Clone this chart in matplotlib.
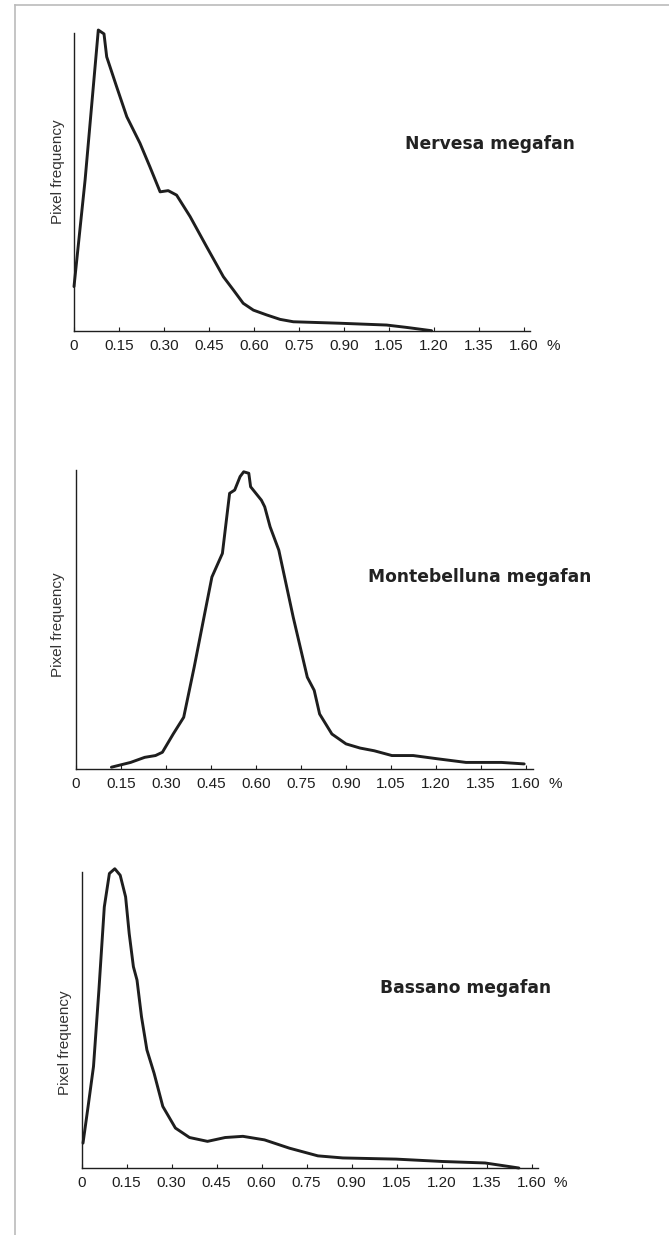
import matplotlib
matplotlib.use("Agg")
import matplotlib.pyplot as plt
from matplotlib.lines import Line2D

# tick labels (the last one is printed as 1.60 in the original figure)
tick_pos = [0, 0.15, 0.30, 0.45, 0.60, 0.75, 0.90, 1.05, 1.20, 1.35, 1.50]
tick_labels = ["0", "0.15", "0.30", "0.45", "0.60", "0.75", "0.90", "1.05", "1.20", "1.35", "1.60"]

# Nervesa megafan (slope %, relative pixel frequency)
nervesa_x = [0.0, 0.037, 0.081, 0.100, 0.109, 0.142, 0.176, 0.220, 0.253, 0.287, 0.314, 0.342,
             0.387, 0.442, 0.498, 0.531, 0.564, 0.598, 0.642, 0.687, 0.731, 0.887, 1.042, 1.109, 1.192]
nervesa_y = [14.9, 50.7, 101.0, 99.7, 92.0, 82.0, 71.9, 63.0, 55.1, 46.7, 47.1, 45.6,
             38.4, 28.3, 18.2, 13.8, 9.3, 7.0, 5.4, 3.9, 3.1, 2.6, 2.0, 1.2, 0.1]

# Montebelluna megafan
monte_x = [0.118, 0.182, 0.229, 0.265, 0.288, 0.324, 0.359, 0.394, 0.429, 0.453, 0.488, 0.512,
           0.529, 0.547, 0.559, 0.576, 0.582, 0.618, 0.629, 0.647, 0.676, 0.724, 0.771, 0.794,
           0.812, 0.853, 0.900, 0.947, 0.994, 1.053, 1.124, 1.206, 1.300, 1.418, 1.494]
monte_y = [0.6, 2.2, 3.9, 4.5, 5.6, 11.7, 17.3, 34.1, 52.0, 64.2, 72.1, 92.2,
           93.3, 97.8, 99.4, 98.9, 94.4, 89.9, 87.7, 81.0, 73.2, 50.8, 30.7, 26.3,
           18.4, 11.7, 8.4, 7.0, 6.1, 4.5, 4.5, 3.4, 2.2, 2.2, 1.7]

# Bassano megafan
bassano_x = [0.005, 0.022, 0.040, 0.058, 0.076, 0.093, 0.111, 0.129, 0.147, 0.159, 0.173, 0.185,
             0.200, 0.218, 0.242, 0.271, 0.313, 0.360, 0.420, 0.479, 0.538, 0.610, 0.693,
             0.788, 0.871, 1.049, 1.203, 1.345, 1.405, 1.458]
bassano_y = [8.4, 20.8, 34.3, 60.1, 88.2, 99.5, 101.1, 98.9, 91.6, 79.2, 68.0, 63.5,
             51.1, 39.9, 32.0, 20.8, 13.5, 10.3, 9.0, 10.3, 10.7, 9.5, 6.7,
             4.1, 3.4, 3.0, 2.2, 1.7, 0.8, 0.0]

titles = ["Nervesa megafan", "Montebelluna megafan", "Bassano megafan"]

W, H = 669, 1235
fig = plt.figure(figsize=(W / 100, H / 100), dpi=100)

# axes boxes in pixels: left, right, top, baseline
boxes = [(74, 530, 33, 331), (76, 533, 470, 769), (81.5, 538, 872, 1168)]
title_pos = [(405, 144), (368, 577), (380, 988)]
ylabel_pos = [(58, 172), (58, 625), (65, 1043)]
series = [(nervesa_x, nervesa_y), (monte_x, monte_y), (bassano_x, bassano_y)]

ink = "#1e1e1e"
for (l, r, t, b), (xs, ys), title, (tx, ty), (lx, ly) in zip(boxes, series, titles, title_pos, ylabel_pos):
    ax = fig.add_axes([l / W, 1 - b / H, (r - l) / W, (b - t) / H])
    ax.plot(xs, ys, color=ink, lw=2.1, solid_joinstyle="round", solid_capstyle="round", clip_on=False)
    ax.set_xlim(0, (r - l) / 300)
    ax.set_ylim(0, 100)
    for s in ["top", "right"]:
        ax.spines[s].set_visible(False)
    for s in ["left", "bottom"]:
        ax.spines[s].set_linewidth(1.0)
        ax.spines[s].set_color(ink)
    ax.set_yticks([])
    ax.set_xticks(tick_pos)
    ax.set_xticklabels(tick_labels, fontfamily="Liberation Sans", fontsize=11, color=ink)
    ax.tick_params(axis="x", direction="in", length=3, width=0.8, pad=5.5, color=ink)
    ax.annotate("%", xy=(1.50, 0), xycoords=ax.get_xaxis_transform(),
                xytext=(16, -10.5), textcoords="offset points",
                ha="left", va="center", fontfamily="Liberation Sans", fontsize=11, color=ink)
    fig.text(lx / W, 1 - ly / H, "Pixel frequency", rotation=90, ha="center", va="center",
             fontfamily="Liberation Sans", fontsize=11, color="#333333")
    fig.text(tx / W, 1 - ty / H, title, ha="left", va="center",
             fontfamily="DejaVu Sans", fontweight="bold", fontsize=12.3, color="#222222")

# thin page frame along the top and left edges
fig.add_artist(Line2D([15 / W, 1], [1 - 5 / H, 1 - 5 / H], color="#bbbbbb", lw=1.2))
fig.add_artist(Line2D([15 / W, 15 / W], [0, 1 - 5 / H], color="#bbbbbb", lw=1.2))

fig.savefig("out.png", dpi=100)
